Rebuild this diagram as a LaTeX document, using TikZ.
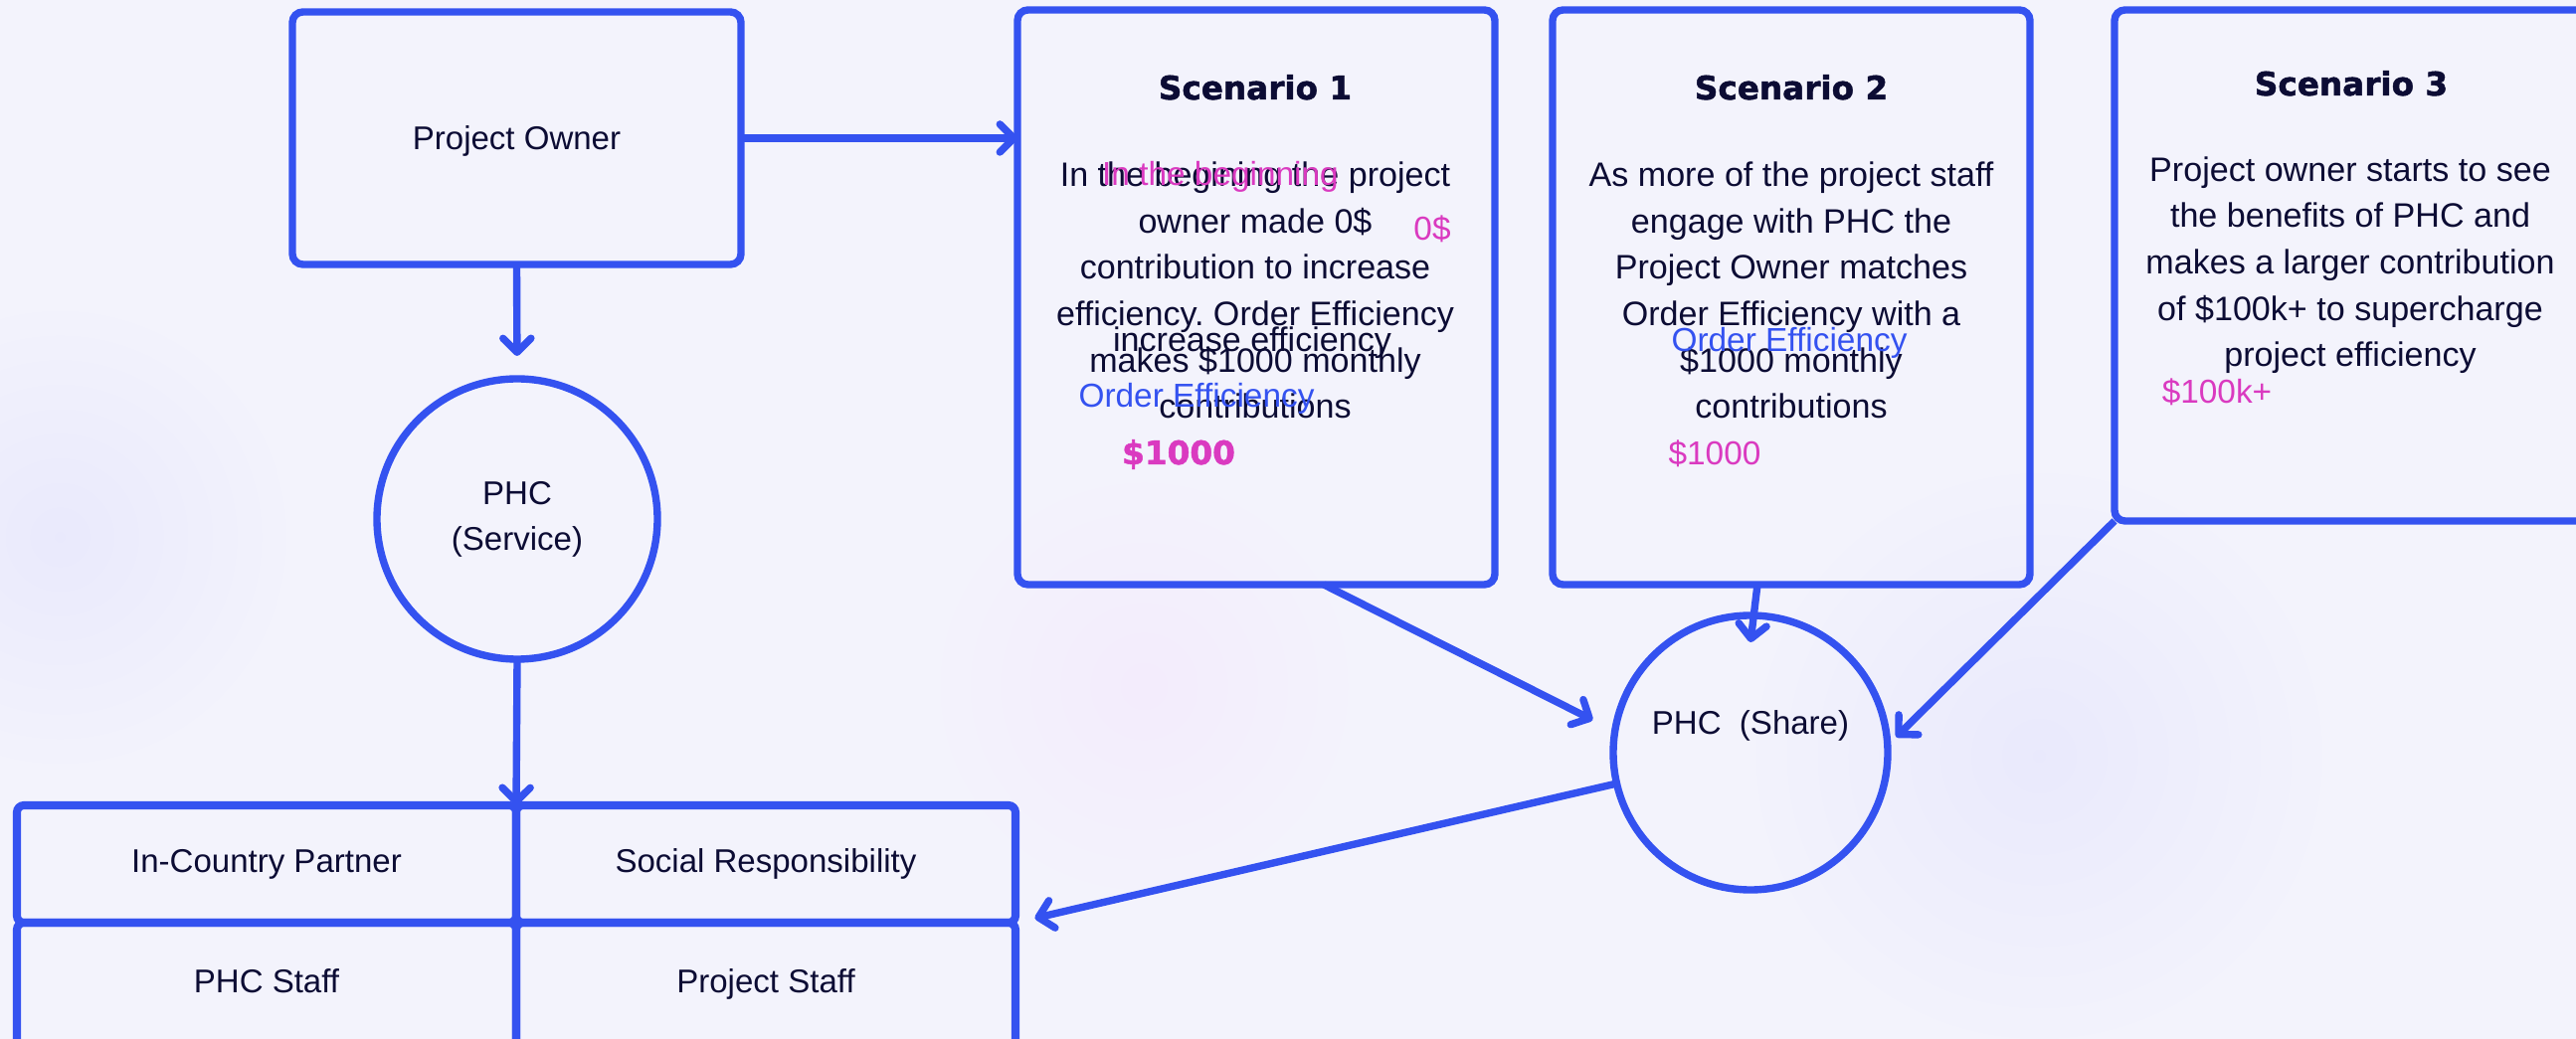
\documentclass[tikz,border=0pt]{standalone}
\usepackage{fontspec}
\setmainfont{Liberation Sans}
\newfontfamily\heavyfont{DejaVu Sans}[BoldFeatures={FakeBold=1.5}]
\frenchspacing
\usetikzlibrary{arrows.meta, positioning}
\definecolor{phcblue}{RGB}{52,82,240}
\definecolor{phcpink}{RGB}{218,58,192}
\definecolor{ink}{RGB}{12,12,52}
\definecolor{paper}{RGB}{243,243,252}
\tikzset{flow box/.style={
        draw=phcblue, line width=2.1pt, rounded corners=3pt,
        minimum width=#1, inner sep=0pt,
        outer sep=0pt, % arrows start right on the border
        font=\fontsize{9.4}{11}\selectfont, text=ink,
    },
    flow circle/.style={
        circle, draw=phcblue, line width=2.1pt, minimum size=#1,
        inner sep=0pt, outer sep=0pt, align=center,
        font=\fontsize{9.4}{13.1}\selectfont, text=ink,
    },
    table cell/.style={
        draw=phcblue, line width=2.3pt, rounded corners=2pt,
        minimum width=50.2mm, minimum height=#1,
        text height=7pt, text depth=2pt,
        outer sep=0pt, font=\fontsize{9.4}{11}\selectfont, text=ink,
    },
    scenario title/.style={
        anchor=base, inner sep=0pt, text=ink,
        font=\heavyfont\bfseries\fontsize{9.3}{11}\selectfont,
    },
    scenario text/.style={
        anchor=base, inner sep=0pt, align=center, text=ink,
        font=\fontsize{9.7}{13.3}\selectfont,
    },
    note/.style={
        anchor=base, inner sep=0pt, text=#1,
        font=\fontsize{9.5}{11}\selectfont,
    },
    link/.style={
        draw=phcblue, line width=2.1pt,
        -{Straight Barb[round, length=4pt, width=8pt]},
    },
}

\begin{document}
\begin{tikzpicture}[x=0.1mm, y=-0.1mm]
    \useasboundingbox (0,0) rectangle (2590,1045);
    \fill[paper] (0,0) rectangle (2590,1045);
    \shade[inner color=blue!4!paper, outer color=paper] (60,540) circle (240);
    \shade[inner color=blue!4!paper, outer color=paper] (2050,760) circle (300);
    \shade[inner color=magenta!3!paper, outer color=paper] (1150,690) circle (220);

    %% left column: owner, service and the partner table
        \node [flow box=45.1mm, minimum height=25.4mm, text depth=0pt, anchor=north west] at (294,12) (owner) {Project Owner};
        \node [flow circle=28.2mm] at (520,522) (svc) {PHC\\(Service)};

        \node [table cell=11.8mm, anchor=north west] at (17,810) (icp) {In-Country Partner};
        \node [table cell=11.8mm, anchor=west] at (icp.east) (sr) {Social Responsibility};
        \node [table cell=12.4mm, anchor=north] at (icp.south) (phcstaff) {PHC Staff};
        \node [table cell=12.4mm, anchor=north] at (sr.south) (projstaff) {Project Staff};

    %% the three scenarios
        \node [flow box=48mm, minimum height=57.8mm, anchor=north west] at (1023,10) (S1) {};
        \node [flow box=48mm, minimum height=57.8mm, anchor=north west] at (1561,10) (S2) {};
        \node [flow box=48mm, minimum height=51.4mm, anchor=north west] at (2126,10) (S3) {};

        \node [scenario title] at (1262,100) (t1) {Scenario 1};
        \node [scenario title] at (1801,100) (t2) {Scenario 2};
        \node [scenario title] at (2364,96) (t3) {Scenario 3};

    %% base of a multi-line node is its last line
        \node [scenario text] at (1262,421) (b1) {In the begining the project\\owner made 0\$\\contribution to increase\\efficiency. Order Efficiency\\makes \$1000 monthly\\contributions};
        \node [scenario text] at (1801,421) (b2) {As more of the project staff\\engage with PHC the\\Project Owner matches\\Order Efficiency with a\\\$1000 monthly\\contributions};
        \node [scenario text] at (2363,369) (b3) {Project owner starts to see\\the benefits of PHC and\\makes a larger contribution\\of \$100k+ to supercharge\\project efficiency};

    %% loose labels lying on top of the texts
        \node [note=phcpink] at (1227,187) (begin1) {In the beginning};
        \node [note=phcpink] at (1440,242) (zero1) {0\$};
        \node [note=ink, font=\fontsize{9.7}{11}\selectfont] at (1259,354) (incr1) {increase efficiency};
        \node [note=phcblue] at (1203,410) (order1) {Order Efficiency};
        \node [note=phcpink, font=\heavyfont\bfseries\fontsize{9.3}{11}\selectfont] at (1185,467) (amount1) {\$1000};
        \node [note=phcblue] at (1799,354) (order2) {Order Efficiency};
        \node [note=phcpink] at (1724,468) (amount2) {\$1000};
        \node [note=phcpink] at (2229,406) (amount3) {\$100k+};

    %% shared pot
        \node [flow circle=27.6mm, label={[yshift=2.7mm, font=\fontsize{9.4}{11}\selectfont, text=ink]center:PHC\ \ (Share)}] at (1760,757) (share) {};

    %% connectors
        \draw [link] (owner.east) -- (owner.east -| S1.west);
        \draw [link, shorten >=2.3mm] (owner.south) -- (svc.north);
        \draw [link] (svc.south) -- (icp.north east);
        \draw [link, shorten >=2.5mm] ([xshift=6.8mm]S1.south) -- (share.171);
        \draw [link] ([xshift=-3.4mm]S2.south) -- ([yshift=-2.7mm]share.north);
        \draw [link, shorten >=1.2mm] (S3.south west) -- (share.3);
        \draw [link, shorten >=2mm] (share.193) -- (sr.south east);
\end{tikzpicture}
\end{document}
